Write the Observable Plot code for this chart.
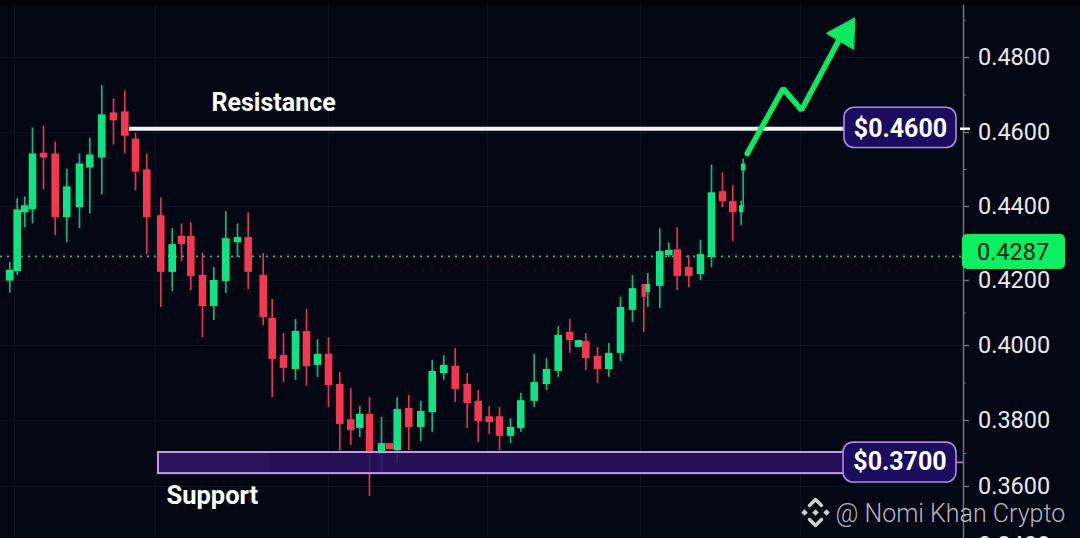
<!DOCTYPE html>
<html><head><meta charset="utf-8">
<script src="https://cdn.jsdelivr.net/npm/d3@7"></script>
<script src="https://cdn.jsdelivr.net/npm/@observablehq/plot@0.6"></script>
<style>html,body{margin:0;padding:0;background:#020713;overflow:hidden}svg{display:block}</style>
</head><body><div id="chart"></div>
<script>
const barTime=[.93,1.67,2.43,3.2,4.3,5.47,6.63,7.9,8.93,10.13,11.3,12.43,13.5,14.63,16.03,17.17,18.1,19.03,20.2,21.33,22.53,23.7,24.77,26.27,
27.17,28.3,29.5,30.6,31.7,32.8,33.93,35.03,35.93,36.9,38.1,38.9,39.67,40.83,42.03,43.17,44.33,45.47,46.67,47.77,48.87,49.9,51,52.03,
53.37,54.6,55.77,56.93,57.8,58.53,59.7,60.83,62,63.2,64.33,64.73,65.93,66.83,67.67,68.83,70,71.1,72.2,73.23,74.07,74.27];
const high=[.4249,.4421,.4426,.4612,.4617,.4574,.4501,.4542,.4585,.4725,.4690,.4711,.4598,.4542,.4423,.4340,.4353,.4356,.4273,.4235,.4386,.4353,.4383,.4273,
.4142,.4037,.4080,.4111,.4018,.4024,.3928,.3885,.3837,.3861,.3808,.3730,.3861,.3867,.3851,.3960,.3973,.3992,.3925,.3880,.3837,.3835,.3805,.3872,
.3976,.3965,.4058,.4080,.4015,.4037,.3995,.4006,.4148,.4214,.4188,.4219,.4340,.4302,.4343,.4267,.4308,.4512,.4491,.4456,.4415,.4528];
const low=[.4161,.4214,.4343,.4353,.4445,.4321,.4302,.4340,.4380,.4431,.4566,.4542,.4442,.4270,.4117,.4166,.4251,.4169,.4024,.4077,.4160,.4262,.4172,.4061,
.3861,.3901,.3907,.3891,.3915,.3835,.3709,.3724,.3748,.3566,.3642,.3712,.3670,.3709,.3736,.3764,.3907,.3848,.3776,.3733,.3758,.3709,.3730,.3764,
.3835,.3880,.3915,.3979,.3995,.3933,.3899,.3915,.3957,.4071,.4040,.4117,.4114,.4262,.4169,.4178,.4200,.4235,.4397,.4305,.4348,.4397];
const open=[.4198,.4224,.4383,.4391,.4544,.4542,.4370,.4397,.4504,.4531,.4652,.4655,.4582,.4499,.4375,.4222,.4319,.4319,.4214,.4120,.4197,.4302,.4316,.4214,
.4083,.3973,.3936,.4043,.3947,.3976,.3896,.3802,.3776,.3816,.3697,.3730,.3709,.3832,.3779,.3821,.3925,.3944,.3896,.3851,.3810,.3810,.3752,.3776,
.3851,.3896,.3931,.4040,.3995,.4012,.3971,.3936,.3979,.4108,.4188,.4163,.4182,.4267,.4283,.4235,.4216,.4262,.4440,.4413,.4383,.4496];
const close=[.4227,.4391,.4402,.4542,.4531,.4370,.4453,.4515,.4539,.4647,.4631,.4590,.4493,.4370,.4222,.4297,.4297,.4211,.4120,.4200,.4313,.4316,.4222,.4086,
.3963,.3939,.4043,.3944,.3976,.3893,.3788,.3770,.3816,.3697,.3730,.3712,.3829,.3779,.3824,.3931,.3947,.3883,.3845,.3797,.3794,.3752,.3779,.3853,
.3901,.3936,.4031,.4015,.4015,.3965,.3936,.3979,.4117,.4175,.4148,.4188,.4278,.4281,.4211,.4211,.4270,.4437,.4413,.4383,.4402,.4515];

const priceTicks=[.48,.46,.44,.42,.40,.38,.36,.34];
const minorTicks=[.49,.47,.45,.43,.41,.39,.37,.35];
const gridTimes=[1.4,15.5,32.8,48.7,64,80];
const arrowBarTime=[74.67,78.27,80.1,84];
const arrowPrice=[.4543,.4717,.4660,.4854];
const headBarTime=[85.4,82.6,85.3];
const headPrice=[.4906,.4865,.4822];

const GREEN="#10e384",RED="#f5384f",FONT="Roboto, 'Liberation Sans', sans-serif";
const candles=barTime.map((t,i)=>({t,o:open[i],h:high[i],l:low[i],c:close[i],up:close[i]>=open[i]}));
const isThin=d=>d.t>74||(d.t>64&&d.t<65);
const arrow=arrowBarTime.map((t,i)=>({t,p:arrowPrice[i]}));
const head=headBarTime.map((t,i)=>({t,p:headPrice[i]}));
const pill=(x1,x2,y1,y2,fill,stroke)=>Plot.rect([0],{x1:()=>x1,x2:()=>x2,y1:()=>y1,y2:()=>y2,fill,stroke,strokeWidth:stroke?1.6:0,rx:10});
const label=(t,x,y,o)=>Plot.text([t],{x:()=>x,y:()=>y,text:d=>d,fontFamily:FONT,...o});

const chart=Plot.plot({
  width:1080,height:538,margin:0,
  style:{background:"#020713",fontFamily:FONT,overflow:"hidden"},
  x:{type:"linear",domain:[0,108],range:[0,1080],axis:null},
  y:{type:"linear",domain:[.50,.48,.46,.44,.42,.40,.38,.36,.34],range:[-17.5,57,132,206,280,345,420,486,545],axis:null},
  marks:[
    Plot.ruleY(priceTicks,{x1:0,x2:96.3,stroke:"#0b1422",strokeWidth:1}),
    Plot.ruleX(gridTimes,{stroke:"#0a1220",strokeWidth:1}),
    Plot.rect([0],{x1:()=>0,x2:()=>108,y1:()=>.494,y2:()=>.50,fill:"#010208"}),
    Plot.ruleY([.4265],{x1:0,x2:96.3,stroke:"#22c088",strokeWidth:1.8,strokeDasharray:"2 5"}),
    Plot.ruleX(candles,{x:"t",y1:"l",y2:"h",strokeWidth:1.7,stroke:d=>d.up?"#0fb877":"#e2344a"}),
    Plot.ruleX(candles,{filter:d=>!isThin(d),x:"t",y1:"o",y2:"c",strokeWidth:7.6,stroke:d=>d.up?GREEN:RED}),
    Plot.ruleX(candles,{filter:isThin,x:"t",y1:"o",y2:"c",strokeWidth:4.5,stroke:d=>d.up?GREEN:RED}),
    Plot.rect([0],{x1:()=>15.8,x2:()=>84.5,y1:()=>.3703,y2:()=>.3639,fill:"#28125f",fillOpacity:.88}),
    Plot.rect([0],{x1:()=>15.8,x2:()=>27,y1:()=>.3703,y2:()=>.3639,fill:"#3a2a80",fillOpacity:.15}),
    Plot.rect([0],{x1:()=>15.8,x2:()=>84.5,y1:()=>.3703,y2:()=>.3639,fill:"none",stroke:"#c79ae8",strokeWidth:2}),
    Plot.ruleY([.4610],{x1:12.9,x2:84.6,stroke:"#f2f2f6",strokeWidth:4}),
    Plot.line(arrow,{x:"t",y:"p",stroke:"#0aeb5f",strokeWidth:5.5,strokeLinejoin:"miter",strokeLinecap:"round"}),
    Plot.line(head,{x:"t",y:"p",fill:"#0aeb5f",stroke:"#0aeb5f",strokeWidth:1,curve:"linear-closed"}),
    pill(84.4,95.6,.4666,.4558,"#1a0c5f","#b687e0"),
    pill(84.3,95.6,.3733,.3612,"#1a0c5f","#b687e0"),
    label("$0.4600",90,.4610,{fill:"#fff",fontSize:25,fontWeight:700}),
    label("$0.3700",89.95,.3673,{fill:"#fff",fontSize:25,fontWeight:700}),
    label("Resistance",21.1,.4679,{fill:"#fff",fontSize:25,fontWeight:700,textAnchor:"start"}),
    label("Support",16.6,.3569,{fill:"#fff",fontSize:25.5,fontWeight:700,textAnchor:"start"}),
    Plot.ruleX([96.3],{y1:.494,y2:.34,stroke:"#70747f",strokeWidth:1.5}),
    Plot.ruleY(priceTicks,{x1:96.3,x2:96.9,stroke:"#70747f",strokeWidth:1.4}),
    Plot.ruleY(minorTicks,{x1:96.3,x2:96.6,stroke:"#70747f",strokeWidth:1}),
    Plot.text(priceTicks,{x:()=>97.75,y:d=>d,text:d3.format(".4f"),textAnchor:"start",fontSize:23.5,fill:"#e9e9ef",fontFamily:FONT}),
    Plot.ruleY([.4610],{x1:96,x2:97,stroke:"#fff",strokeWidth:2.5}),
    Plot.ruleY([.3673],{x1:95.6,x2:96.3,stroke:"#b687e0",strokeWidth:1.6}),
    Plot.rect([0],{x1:()=>96.2,x2:()=>106.5,y1:()=>.4324,y2:()=>.4230,fill:"#0cef60",rx:5}),
    label("0.4287",101.25,.4276,{fill:"#06200f",fontSize:23.5,fontWeight:400}),
    label("@ Nomi Khan Crypto",83.5,.3508,{fill:"#cfcfd3",fillOpacity:.9,fontSize:25,textAnchor:"start",fontWeight:300}),
    Plot.dot([[80.4,.3512],[82.6,.3512],[81.5,.3512]],{x:d=>d[0],y:d=>d[1],symbol:"square",r:2.6,rotate:45,fill:"#cfcfd3"}),
    Plot.line([[80.9,.3536],[81.5,.3556],[82.1,.3536]],{x:d=>d[0],y:d=>d[1],stroke:"#cfcfd3",strokeWidth:3.5}),
    Plot.line([[80.9,.3488],[81.5,.3468],[82.1,.3488]],{x:d=>d[0],y:d=>d[1],stroke:"#cfcfd3",strokeWidth:3.5})
  ]
});
document.getElementById("chart").append(chart);
</script></body></html>
